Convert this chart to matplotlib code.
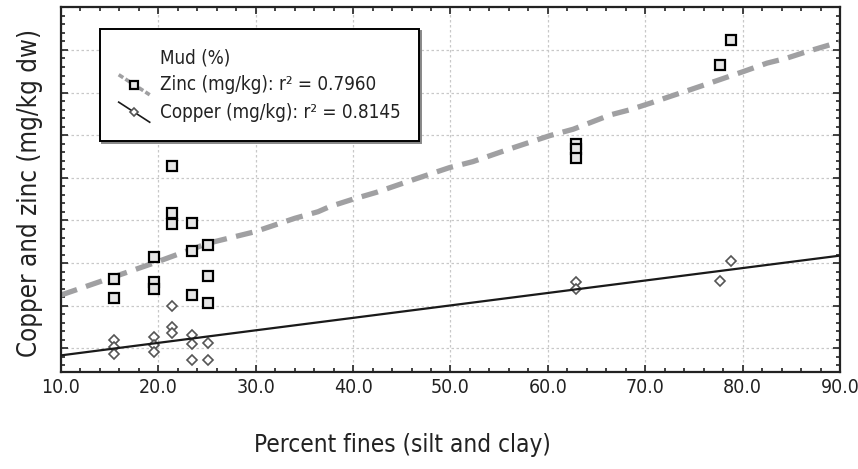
import numpy as np
import matplotlib
matplotlib.use("Agg")
import matplotlib.pyplot as plt
from matplotlib import font_manager as fm
from matplotlib.lines import Line2D
from matplotlib.legend_handler import HandlerLine2D
from matplotlib.ticker import MultipleLocator

# the original uses a narrow sans; pick a condensed face if one is installed
narrow = None
for f in fm.fontManager.ttflist:
    if ('Narrow' in f.name or f.stretch in ('condensed', 'semi-condensed')) \
            and f.style == 'normal' and f.weight in (400, 'normal', 'regular'):
        narrow = f
        break
if narrow is not None:
    plt.rcParams['font.family'] = [narrow.name, 'Liberation Sans', 'DejaVu Sans']
    plt.rcParams['font.stretch'] = narrow.stretch
    scale = 1.0
else:
    plt.rcParams['font.family'] = ['Liberation Sans', 'DejaVu Sans']
    scale = 0.9

# zinc samples (mg/kg) vs percent fines
fines_zn = [15.4, 15.4, 19.55, 19.55, 19.55, 21.4, 21.4, 21.4, 23.5, 23.5, 23.5,
            25.1, 25.1, 25.1, 62.9, 62.9, 62.9, 77.7, 78.8]
zinc = [52.5, 43.5, 62.9, 51.0, 47.8, 105.6, 83.4, 78.2, 79.0, 65.7, 45.0,
        68.5, 53.8, 41.3, 115.9, 113.6, 109.5, 152.7, 164.7]

# copper samples (mg/kg) vs percent fines
fines_cu = [15.4, 15.4, 15.4, 19.55, 19.55, 19.55, 21.4, 21.4, 21.4, 23.5, 23.5, 23.5,
            25.1, 25.1, 62.9, 62.9, 77.7, 78.8]
copper = [23.9, 20.6, 17.3, 25.2, 21.5, 18.1, 39.9, 29.9, 27.0, 26.2, 22.0, 14.5,
          22.3, 14.5, 51.0, 47.7, 51.5, 60.8]

# fitted curves
zn_fit_x = [10, 19.65, 25.1, 29.9, 34.0, 36.4, 37.6, 40.0, 42.4, 46.1, 49.9, 52.3,
            56.1, 60.2, 62.6, 66.4, 68.4, 70.5, 72.5, 74.6, 76.6, 80.1, 82.5, 84.5, 86.6, 90]
zn_fit_y = [45.0, 60.2, 69.3, 74.7, 81.0, 84.1, 86.5, 90.0, 93.2, 99.0, 104.8, 107.6,
            113.6, 119.8, 122.8, 129.5, 131.9, 135.0, 138.1, 141.3, 144.4, 149.9, 153.8,
            156.1, 159.2, 163.8]
cu_fit_x = [10, 29.9, 90]
cu_fit_y = [16.7, 28.4, 63.5]

labels = ['Mud (%)', 'Zinc (mg/kg): r² = 0.7960', 'Copper (mg/kg): r² = 0.8145']


class DiagHandler(HandlerLine2D):
    # legend handle drawn as a falling diagonal with the marker in the middle
    def create_artists(self, legend, orig_handle, xdescent, ydescent,
                       width, height, fontsize, trans):
        x0, x1 = -xdescent, width - xdescent
        y0, y1 = height * 1.1, -height * 0.3
        ln = Line2D([x0, x1], [y0, y1])
        self.update_prop(ln, orig_handle, legend)
        ln.set_marker('None')
        mk = Line2D([(x0 + x1) / 2], [(y0 + y1) / 2], linestyle='None')
        self.update_prop(mk, orig_handle, legend)
        mk.set_linestyle('None')
        ln.set_transform(trans)
        mk.set_transform(trans)
        return [ln, mk]


fig = plt.figure(figsize=(8.58, 4.69), dpi=100)
ax = fig.add_axes([61 / 858, 97 / 469, 779 / 858, 364.7 / 469])

ax.plot(zn_fit_x, zn_fit_y, color='#a0a0a2', lw=3.8, dashes=(3.2, 1.8), zorder=2,
        solid_capstyle='butt', dash_capstyle='butt')
ax.plot(fines_zn, zinc, linestyle='None', marker='s', ms=6.6, mfc='#e6e6e6',
        mec='black', mew=1.6, zorder=4)
ax.plot(fines_cu, copper, linestyle='None', marker='D', ms=4.6, mfc='white',
        mec='#555555', mew=1.2, zorder=3)
ax.plot(cu_fit_x, cu_fit_y, color='#1a1a1a', lw=1.6, zorder=5)

ax.set_xlim(10, 90)
ax.set_ylim(8.9, 180)
ax.xaxis.set_major_locator(MultipleLocator(10))
ax.xaxis.set_minor_locator(MultipleLocator(2))
ax.yaxis.set_major_locator(MultipleLocator(20))
ax.yaxis.set_minor_locator(MultipleLocator(4))
ax.xaxis.set_major_formatter(plt.FuncFormatter(lambda v, p: f'{v:.1f}'))
ax.tick_params(which='both', direction='in', top=True, right=True, width=1.2, color='#222222')
ax.tick_params(which='major', length=5)
ax.tick_params(which='minor', length=3)
ax.tick_params(axis='x', labelsize=14 * scale, pad=4, labelcolor='#222222')
ax.tick_params(axis='y', which='both', labelleft=False)
ax.grid(True, which='major', color='#c8c8c8', lw=0.9, linestyle=(0, (2, 2)))
for s in ax.spines.values():
    s.set_linewidth(1.6)
    s.set_color('#222222')

ax.set_xlabel('Percent fines (silt and clay)', fontsize=17.5 * scale, color='#222222')
ax.xaxis.set_label_coords(0.438, -0.168)
ax.set_ylabel('Copper and zinc (mg/kg dw)', fontsize=18.5 * scale, color='#222222')
ax.yaxis.set_label_coords(-0.023, 0.49)

h_blank = Line2D([], [], linestyle='None', marker='None')
h_zn = Line2D([], [], color='#a0a0a2', lw=2.6, dashes=(1.5, 0.7), marker='s', ms=6.2,
              mfc='#e6e6e6', mec='black', mew=1.6)
h_cu = Line2D([], [], color='#1a1a1a', lw=1.2, marker='D', ms=4.4, mfc='white',
              mec='#555555', mew=1.2)
fs = 13.5 * scale
px = fs * 100 / 72
leg = ax.legend([h_blank, h_zn, h_cu], labels, loc='upper left',
                bbox_to_anchor=(0.050, 0.9397), borderaxespad=0,
                prop={'size': fs},
                handler_map={Line2D: DiagHandler()}, handlelength=31 / px,
                handleheight=0.8, handletextpad=10 / px,
                labelspacing=0.45, borderpad=1.0,
                fancybox=False, framealpha=1, edgecolor='black',
                shadow={'ox': 1.5, 'oy': -1.5, 'color': '#888888', 'alpha': 1})
leg.get_frame().set_linewidth(1.4)
for t in leg.get_texts():
    t.set_color('#222222')

fig.savefig('out.png', dpi=100)
